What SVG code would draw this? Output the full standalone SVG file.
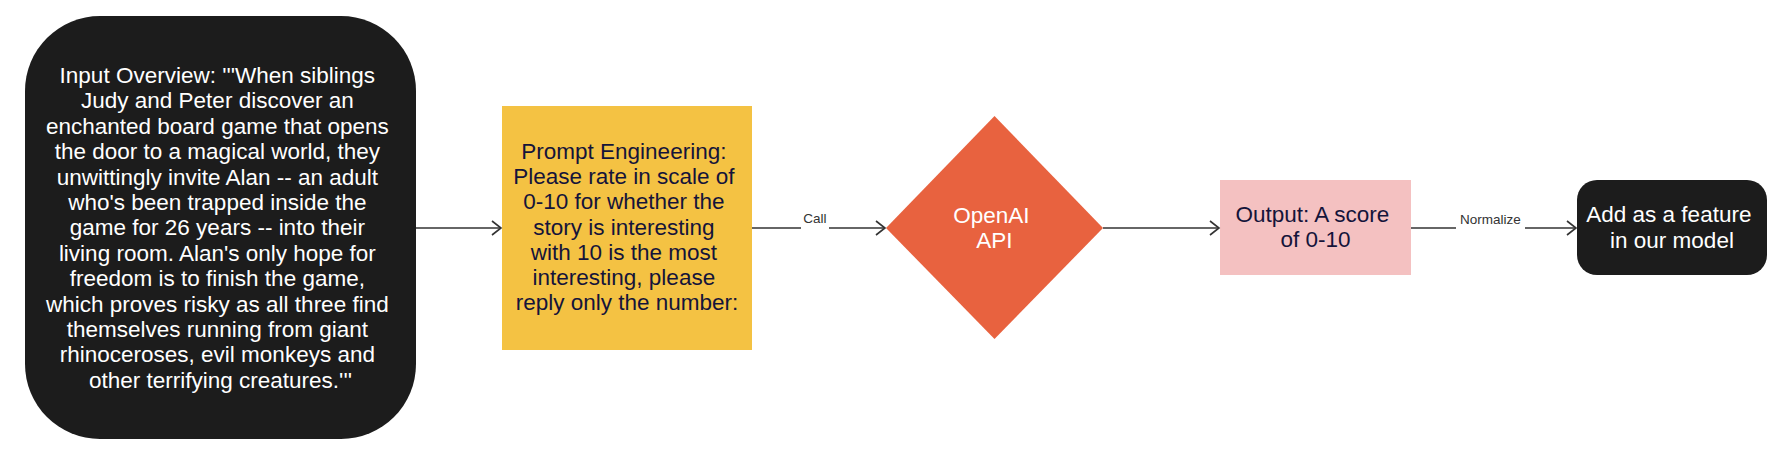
<svg xmlns="http://www.w3.org/2000/svg" width="1782" height="455" viewBox="0 0 1782 455">
<style>
.t{font-family:"Liberation Sans",Arial,sans-serif;font-size:22.5px;text-anchor:middle}
.w{fill:#ffffff}
.d{fill:#14143a}
.lbl{font-family:"Liberation Sans",Arial,sans-serif;font-size:13.5px;fill:#333333;text-anchor:middle}
.edge{stroke:#333333;stroke-width:1.6;fill:none}
</style>
<defs>
<marker id="arr" markerWidth="12" markerHeight="16" refX="10" refY="8" orient="auto" markerUnits="userSpaceOnUse">
<path d="M1,1 L10,8 L1,15" fill="none" stroke="#333333" stroke-width="1.6"/>
</marker>
</defs>
<rect width="1782" height="455" fill="#ffffff"/>
<g id="input">
<rect x="25" y="16" width="391" height="423" rx="75" ry="75" fill="#1c1c1c"/>
<text class="t w">
<tspan x="220.5" y="83">Input Overview: '''When siblings</tspan>
<tspan x="220.5" y="108.4">Judy and Peter discover an</tspan>
<tspan x="220.5" y="133.8">enchanted board game that opens</tspan>
<tspan x="220.5" y="159.2">the door to a magical world, they</tspan>
<tspan x="220.5" y="184.6">unwittingly invite Alan -- an adult</tspan>
<tspan x="220.5" y="210">who's been trapped inside the</tspan>
<tspan x="220.5" y="235.4">game for 26 years -- into their</tspan>
<tspan x="220.5" y="260.8">living room. Alan's only hope for</tspan>
<tspan x="220.5" y="286.2">freedom is to finish the game,</tspan>
<tspan x="220.5" y="311.6">which proves risky as all three find</tspan>
<tspan x="220.5" y="337">themselves running from giant</tspan>
<tspan x="220.5" y="362.4">rhinoceroses, evil monkeys and</tspan>
<tspan x="220.5" y="387.8">other terrifying creatures.'''</tspan>
</text>
</g>
<g id="prompt">
<rect x="502" y="106" width="250" height="244" fill="#f4c243"/>
<text class="t d">
<tspan x="627" y="159">Prompt Engineering:</tspan>
<tspan x="627" y="184.2">Please rate in scale of</tspan>
<tspan x="627" y="209.4">0-10 for whether the</tspan>
<tspan x="627" y="234.6">story is interesting</tspan>
<tspan x="627" y="259.8">with 10 is the most</tspan>
<tspan x="627" y="285">interesting, please</tspan>
<tspan x="627" y="310.2">reply only the number:</tspan>
</text>
</g>
<g id="openai">
<polygon points="994.5,116 1103,228 994.5,339 886,228" fill="#e8623f"/>
<text class="t w">
<tspan x="994.5" y="223">OpenAI</tspan>
<tspan x="994.5" y="248">API</tspan>
</text>
</g>
<g id="output">
<rect x="1220" y="180" width="191" height="95" fill="#f4c1c1"/>
<text class="t d">
<tspan x="1315.5" y="222">Output: A score</tspan>
<tspan x="1315.5" y="247">of 0-10</tspan>
</text>
</g>
<g id="feature">
<rect x="1577" y="180" width="190" height="95" rx="20" ry="20" fill="#1c1c1c"/>
<text class="t w">
<tspan x="1672" y="222">Add as a feature</tspan>
<tspan x="1672" y="248">in our model</tspan>
</text>
</g>
<g id="connectors">
<line class="edge" x1="416" y1="228" x2="501" y2="228" marker-end="url(#arr)"/>
<line class="edge" x1="752" y1="228" x2="885" y2="228" marker-end="url(#arr)"/>
<rect x="801" y="218" width="28" height="20" fill="#ffffff"/>
<text class="lbl" x="815" y="223">Call</text>
<line class="edge" x1="1103" y1="228" x2="1219" y2="228" marker-end="url(#arr)"/>
<line class="edge" x1="1411" y1="228" x2="1576" y2="228" marker-end="url(#arr)"/>
<rect x="1456" y="218" width="69" height="20" fill="#ffffff"/>
<text class="lbl" x="1490.5" y="224">Normalize</text>
</g>
</svg>
